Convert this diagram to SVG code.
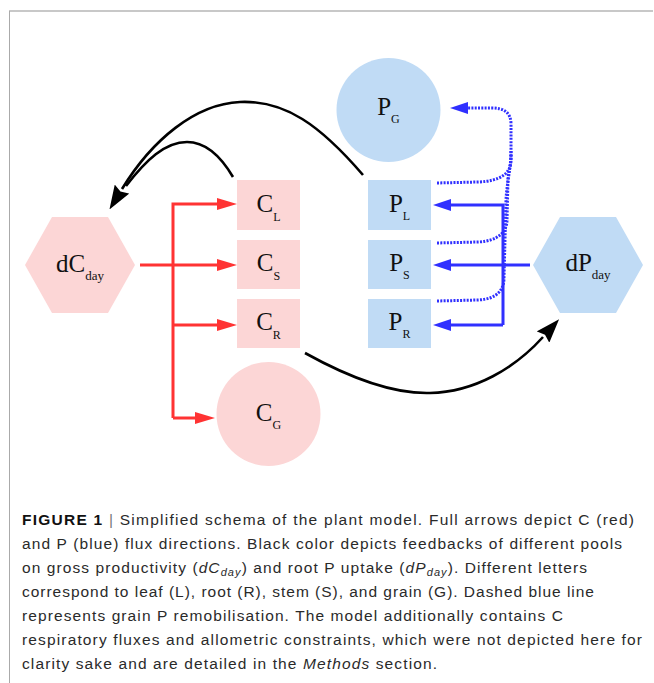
<svg xmlns="http://www.w3.org/2000/svg" width="654" height="683" viewBox="0 0 654 683">
<style>
.pink{fill:#fcd6d6}
.blue{fill:#c0dbf5}
.lbl{font-family:"Liberation Serif","Times New Roman",serif;font-size:25px;fill:#111;text-anchor:middle}
.sub{font-size:12px}
.subd{font-size:13px}
.red{fill:none;stroke:#ff3333;stroke-width:3}
.bl{fill:none;stroke:#3030ff;stroke-width:3}
.dot{fill:none;stroke:#3030ff;stroke-width:3;stroke-dasharray:2 1.3}
.blk{fill:none;stroke:#000;stroke-width:2.6}
.cap{font-family:"Liberation Sans",Arial,sans-serif;font-size:15.5px;fill:#2a2a2a}
</style>
<defs>
<marker id="ar" markerUnits="userSpaceOnUse" viewBox="0 0 20 12" markerWidth="20" markerHeight="12" refX="0" refY="6" orient="auto"><path d="M0,0 L20,6 L0,12 z" fill="#ff3333"/></marker>
<marker id="ab" markerUnits="userSpaceOnUse" viewBox="0 0 18 12" markerWidth="18" markerHeight="12" refX="0" refY="6" orient="auto"><path d="M0,0 L18,6 L0,12 z" fill="#3030ff"/></marker>
<marker id="ak" markerUnits="userSpaceOnUse" viewBox="0 0 24 17" markerWidth="24" markerHeight="17" refX="0" refY="8.5" orient="auto"><path d="M0,0 L24,8.5 L0,17 L3,8.5 z" fill="#000"/></marker>
</defs>
<rect width="654" height="683" fill="#fff"/>
<line x1="9" y1="11" x2="653" y2="11" stroke="#c8c8c8" stroke-width="2"/>
<line x1="9.5" y1="11" x2="9.5" y2="683" stroke="#aaaaaa" stroke-width="1"/>

<g id="dCday"><polygon class="pink" points="25,265 52,217 108,217 135,265 108,313 52,313"/><text class="lbl" x="80" y="272">dC<tspan class="subd" dy="8">day</tspan></text></g>
<g id="CL"><rect class="pink" x="237" y="180" width="63" height="50"/><text class="lbl" x="268.5" y="212">C<tspan class="sub" dy="9">L</tspan></text></g>
<g id="CS"><rect class="pink" x="237" y="240" width="63" height="49"/><text class="lbl" x="268.5" y="271">C<tspan class="sub" dy="9">S</tspan></text></g>
<g id="CR"><rect class="pink" x="237" y="299" width="63" height="49"/><text class="lbl" x="268.5" y="330">C<tspan class="sub" dy="9">R</tspan></text></g>
<g id="CG"><circle class="pink" cx="268.5" cy="414" r="52"/><text class="lbl" x="268.5" y="421">C<tspan class="sub" dy="8">G</tspan></text></g>
<g id="PG"><circle class="blue" cx="388.5" cy="110" r="52"/><text class="lbl" x="388.5" y="115">P<tspan class="sub" dy="8">G</tspan></text></g>
<g id="PL"><rect class="blue" x="368" y="180" width="63" height="50"/><text class="lbl" x="399.5" y="212">P<tspan class="sub" dy="8">L</tspan></text></g>
<g id="PS"><rect class="blue" x="368" y="240" width="63" height="49"/><text class="lbl" x="399.5" y="271">P<tspan class="sub" dy="8">S</tspan></text></g>
<g id="PR"><rect class="blue" x="368" y="299" width="63" height="49"/><text class="lbl" x="399.5" y="330">P<tspan class="sub" dy="8">R</tspan></text></g>
<g id="dPday"><polygon class="blue" points="533,265 560,217 616,217 643,265 616,313 560,313"/><text class="lbl" x="588" y="271">dP<tspan class="subd" dy="8">day</tspan></text></g>

<g id="connectors">
<path class="red" d="M140,265 L217,265" marker-end="url(#ar)"/>
<path class="red" d="M173,418 L173,204 L217,204" marker-end="url(#ar)"/>
<path class="red" d="M173,325 L217,325" marker-end="url(#ar)"/>
<path class="red" d="M173,418 L195,418" marker-end="url(#ar)"/>
<path class="bl" d="M530,265 L451,265" marker-end="url(#ab)"/>
<path class="bl" d="M503,325 L503,205 L451,205" marker-end="url(#ab)"/>
<path class="bl" d="M503,325 L451,325" marker-end="url(#ab)"/>
<path class="dot" d="M437,301 L478,300 C497,299 504,290 504,278 L506,200 C507,180 511,170 511,150"/>
<path class="dot" d="M437,243 L478,242 C498,241 507,232 507,220 L508,178 C509,170 511,165 511,155"/>
<path class="dot" d="M437,183 L478,182 C500,181 511,174 511,160 L511,124 C511,112 503,108 492,108 L468,108" marker-end="url(#ab)"/>
<path class="blk" d="M233,177 C220,155 205,142 187,142 C165,142 146,160 126,186"/>
<path class="blk" d="M363,175 C320,125 285,100 240,102 C195,104 152,140 122,189" marker-end="url(#ak)"/>
<path class="blk" d="M305,353 C350,378 395,394 430,393 C475,392 515,368 543,337" marker-end="url(#ak)"/>
</g>

<g id="caption" class="cap">
<text x="22" y="525" textLength="612"><tspan font-weight="bold" fill="#111">FIGURE 1</tspan><tspan fill="#777"> | </tspan>Simplified schema of the plant model. Full arrows depict C (red)</text>
<text x="22" y="549" textLength="600">and P (blue) flux directions. Black color depicts feedbacks of different pools</text>
<text x="22" y="573" textLength="565">on gross productivity (<tspan font-style="italic">dC</tspan><tspan font-style="italic" font-size="11" dy="3">day</tspan><tspan dy="-3">) and root P uptake (</tspan><tspan font-style="italic">dP</tspan><tspan font-style="italic" font-size="11" dy="3">day</tspan><tspan dy="-3">). Different letters</tspan></text>
<text x="22" y="597" textLength="572">correspond to leaf (L), root (R), stem (S), and grain (G). Dashed blue line</text>
<text x="22" y="621" textLength="541">represents grain P remobilisation. The model additionally contains C</text>
<text x="22" y="645" textLength="620">respiratory fluxes and allometric constraints, which were not depicted here for</text>
<text x="22" y="669" textLength="415">clarity sake and are detailed in the <tspan font-style="italic">Methods</tspan> section.</text>
</g>
</svg>
